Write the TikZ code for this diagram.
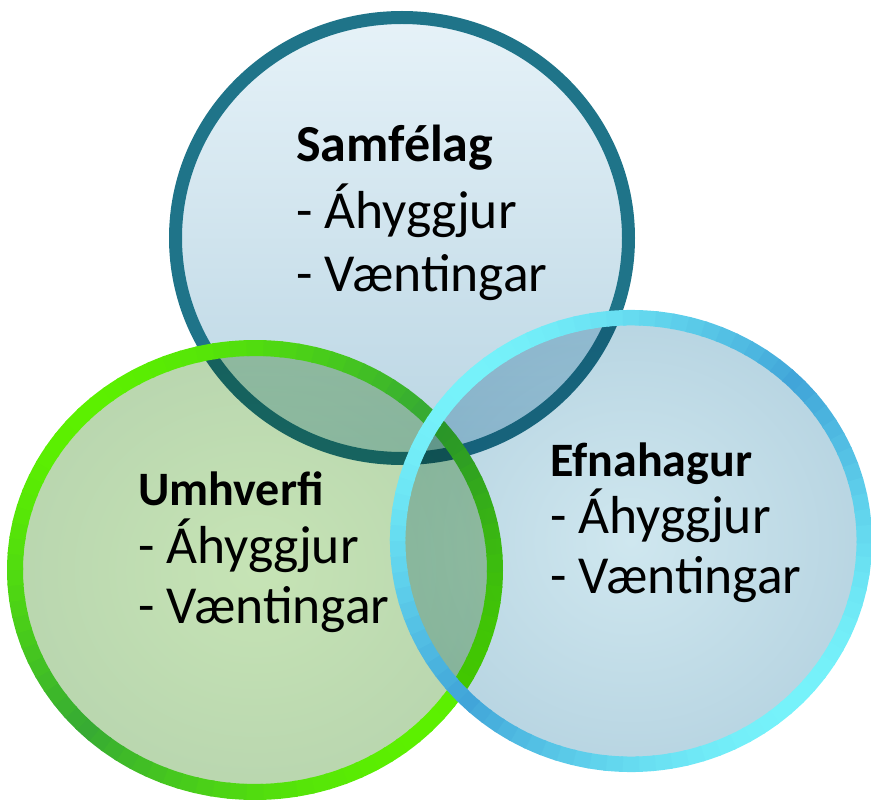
\documentclass[tikz,border=0pt]{standalone}
\usepackage{fontspec}
\setmainfont{Carlito}
\definecolor{tealring}{HTML}{1F7489}
\definecolor{grnbright}{HTML}{5CF000}
\definecolor{grndark}{HTML}{36AA34}
\definecolor{cyanbright}{HTML}{76F2FA}
\definecolor{bluedark}{HTML}{40A4D8}
\definecolor{topfilltop}{HTML}{E6F2F8}
\definecolor{topfillbot}{HTML}{B9D5E3}
\definecolor{leftin}{HTML}{C6E4B5}
\definecolor{leftout}{HTML}{B9D6AF}
\definecolor{rightin}{HTML}{CFE7EF}
\definecolor{rightout}{HTML}{B8D5E2}
\begin{document}
\begin{tikzpicture}[x=1pt,y=-1pt,
  lbl/.style={anchor=base west, inner sep=0pt, text=black},
  headbig/.style={lbl, font=\fontsize{52}{60}\selectfont\bfseries},
  headsmall/.style={lbl, font=\fontsize{48}{56}\selectfont\bfseries},
  itemtext/.style={lbl, font=\fontsize{53.5}{60}\selectfont},
  ringseg/.style={line width=#1, line cap=butt}]
\useasboundingbox (0,0) rectangle (871,802);

% ---- top circle (Samfelag)
\shade[top color=topfilltop, bottom color=topfillbot]
  (402,238) ellipse [x radius=227pt, y radius=221pt];
\draw[tealring, line width=13pt]
  (402,238) ellipse [x radius=226.5pt, y radius=220.5pt];

% ---- left circle (Umhverfi)
\begin{scope}[blend mode=multiply]
\shade[inner color=leftin, outer color=leftout]
  (255,570) ellipse [x radius=241pt, y radius=222pt];
\end{scope}
\begin{scope}[shift={(255,570)}]
\foreach \a in {0,4,...,356}{
  \pgfmathsetmacro\p{abs(cos(\a+2-45))*100}
  \draw[ringseg=16pt, color=grnbright!\p!grndark]
    (\a:240 and 222) arc[start angle=\a, end angle=\a+4.6, x radius=240, y radius=222];
}
\end{scope}

% ---- right circle (Efnahagur)
\begin{scope}[blend mode=multiply]
\shade[inner color=rightin, outer color=rightout]
  (631,541) ellipse [x radius=233pt, y radius=224pt];
\end{scope}
\begin{scope}[shift={(631,541)}]
\foreach \a in {0,4,...,356}{
  \pgfmathsetmacro\p{abs(cos(\a+2-45))*100}
  \draw[ringseg=15.5pt, color=cyanbright!\p!bluedark]
    (\a:233.3 and 223.3) arc[start angle=\a, end angle=\a+4.6, x radius=233.3, y radius=223.3];
}
\end{scope}

% ---- texts
\node[headbig] (s1) at (296,162) {Samfélag};
\node[itemtext] (s2) at (296,229) {- Áhyggjur};
\node[itemtext] (s3) at (296,292) {- Væntingar};

\node[headsmall] (u1) at (138,505) {Umhverfi};
\node[itemtext] (u2) at (138,563) {- Áhyggjur};
\node[itemtext] (u3) at (138,623) {- Væntingar};

\node[headsmall] (e1) at (550,476) {Efnahagur};
\node[itemtext] (e2) at (550,533) {- Áhyggjur};
\node[itemtext] (e3) at (550,593) {- Væntingar};
\end{tikzpicture}
\end{document}
